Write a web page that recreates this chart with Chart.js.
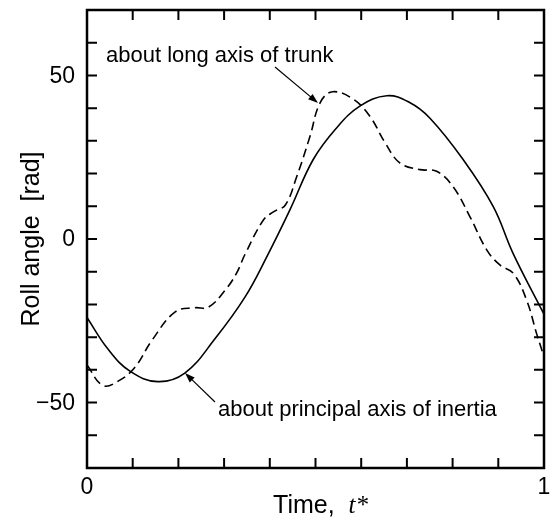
<!DOCTYPE html>
<html lang="en">
<head>
  <meta charset="UTF-8">
  <title>Roll angle</title>
  <script src="https://cdn.jsdelivr.net/npm/chart.js"></script>
  <style>
    body { margin: 0; background: #fff; }
    #wrap { width: 551px; height: 517px; }
  </style>
</head>
<body>
<div id="wrap"><canvas id="rollChart" width="551" height="517"></canvas></div>
<script>
  // about principal axis of inertia (solid)
  var principalT = [0, 0.045, 0.094, 0.155, 0.214, 0.28, 0.346, 0.395, 0.444, 0.495, 0.545, 0.597, 0.656, 0.705, 0.75, 0.823, 0.889, 0.932, 1.0];
  var principalV = [-24, -33.5, -40.4, -43.6, -41, -30.5, -17.7, -5, 8.9, 24.3, 33.8, 40.6, 43.8, 41.8, 37, 24.3, 9.9, -4.3, -23];

  // about long axis of trunk (dashed)
  var trunkT = [0, 0.035, 0.07, 0.105, 0.142, 0.193, 0.236, 0.265, 0.302, 0.327, 0.346, 0.386, 0.408, 0.434, 0.459, 0.488, 0.51, 0.537, 0.583, 0.619, 0.652, 0.685, 0.729, 0.765, 0.801, 0.838, 0.875, 0.904, 0.933, 0.962, 0.984, 1.0];
  var trunkV = [-38.5, -44.8, -43.3, -39.2, -31, -22.3, -21, -20.9, -15.7, -10.5, -4.6, 5.8, 8.3, 10.4, 19.1, 31.4, 41.6, 45, 42.7, 37.5, 29.5, 23.2, 21.2, 20.7, 16, 6.8, -3.4, -8, -10.5, -18.7, -29, -36];

  // axis ticks
  var xMinorTicks = [0.1, 0.2, 0.3, 0.4, 0.5, 0.6, 0.7, 0.8, 0.9];
  var yMinorTicks = [-60, -50, -40, -30, -20, -10, 0, 10, 20, 30, 40, 50, 60];
  var xTickLabels = [0, 1];
  var yTickLabels = [-50, 0, 50];

  function toPoints(ts, vs) {
    return ts.map(function(t, i) { return { x: t, y: vs[i] }; });
  }

  var sans = '"Liberation Sans", Arial, sans-serif';

  function arrow(ctx, x0, y0, x1, y1) {
    var a = Math.atan2(y1 - y0, x1 - x0);
    ctx.beginPath();
    ctx.moveTo(x0, y0);
    ctx.lineTo(x1 - 6 * Math.cos(a), y1 - 6 * Math.sin(a));
    ctx.stroke();
    ctx.beginPath();
    ctx.moveTo(x1, y1);
    ctx.lineTo(x1 - 10 * Math.cos(a) + 3.5 * Math.sin(a), y1 - 10 * Math.sin(a) - 3.5 * Math.cos(a));
    ctx.lineTo(x1 - 10 * Math.cos(a) - 3.5 * Math.sin(a), y1 - 10 * Math.sin(a) + 3.5 * Math.cos(a));
    ctx.closePath();
    ctx.fill();
  }

  // frame, inward ticks, labels, titles, notes
  var decor = {
    id: 'decor',
    afterDraw: function(chart) {
      var ctx = chart.ctx, a = chart.chartArea;
      var xs = chart.scales.x, ys = chart.scales.y;
      ctx.save();
      ctx.strokeStyle = '#000';
      ctx.fillStyle = '#000';

      ctx.lineWidth = 2;
      xMinorTicks.forEach(function(v) {
        var px = xs.getPixelForValue(v);
        ctx.beginPath();
        ctx.moveTo(px, a.bottom); ctx.lineTo(px, a.bottom - 10);
        ctx.moveTo(px, a.top); ctx.lineTo(px, a.top + 10);
        ctx.stroke();
      });
      yMinorTicks.forEach(function(v) {
        var py = ys.getPixelForValue(v);
        ctx.beginPath();
        ctx.moveTo(a.left, py); ctx.lineTo(a.left + 10, py);
        ctx.moveTo(a.right, py); ctx.lineTo(a.right - 10, py);
        ctx.stroke();
      });

      ctx.lineWidth = 2.5;
      ctx.strokeRect(a.left, a.top, a.right - a.left, a.bottom - a.top);

      ctx.font = '23px ' + sans;
      ctx.textBaseline = 'middle';
      ctx.textAlign = 'right';
      yTickLabels.forEach(function(v) {
        var txt = v < 0 ? '\u2212' + Math.abs(v) : String(v);
        ctx.fillText(txt, a.left - 12, ys.getPixelForValue(v) + 1);
      });
      ctx.textAlign = 'center';
      xTickLabels.forEach(function(v) {
        ctx.fillText(String(v), xs.getPixelForValue(v), a.bottom + 20);
      });

      // y title
      ctx.save();
      ctx.translate(32, (a.top + a.bottom) / 2);
      ctx.rotate(-Math.PI / 2);
      ctx.font = '25px ' + sans;
      ctx.textAlign = 'center';
      ctx.fillText('Roll angle  [rad]', 0, 0);
      ctx.restore();

      // x title
      ctx.textBaseline = 'alphabetic';
      ctx.textAlign = 'left';
      ctx.font = '25px ' + sans;
      var part1 = 'Time,  ';
      var w1 = ctx.measureText(part1).width;
      ctx.font = 'italic 25px "Liberation Serif", "Times New Roman", serif';
      var w2 = ctx.measureText('t*').width;
      var x0 = (a.left + a.right) / 2 - (w1 + w2) / 2 + 5;
      ctx.font = '25px ' + sans;
      ctx.fillText(part1, x0, 513);
      ctx.font = 'italic 25px "Liberation Serif", "Times New Roman", serif';
      ctx.fillText('t*', x0 + w1, 513);

      // notes
      ctx.font = '22px ' + sans;
      ctx.fillText('about long axis of trunk', 106, 62);
      ctx.fillText('about principal axis of inertia', 218, 416);
      ctx.lineWidth = 1.2;
      arrow(ctx, 275, 67, 318, 103);
      arrow(ctx, 215, 402, 185, 373);

      ctx.restore();
    }
  };

  var ctxRoll = document.getElementById('rollChart').getContext('2d');
  var rollChart = new Chart(ctxRoll, {
    type: 'line',
    data: {
      datasets: [{
        label: 'about principal axis of inertia',
        data: toPoints(principalT, principalV),
        borderColor: '#000',
        borderWidth: 1.6,
        tension: 0.4,
        pointRadius: 0,
        fill: false
      }, {
        label: 'about long axis of trunk',
        data: toPoints(trunkT, trunkV),
        borderColor: '#000',
        borderWidth: 1.6,
        borderDash: [9, 5],
        tension: 0.4,
        pointRadius: 0,
        fill: false
      }]
    },
    options: {
      responsive: false,
      animation: false,
      devicePixelRatio: 1,
      layout: { padding: { left: 87, right: 7, top: 10, bottom: 49 } },
      plugins: { legend: { display: false }, tooltip: { enabled: false } },
      scales: {
        x: { type: 'linear', min: 0, max: 1, display: false },
        y: { type: 'linear', min: -70, max: 70, display: false }
      }
    },
    plugins: [decor]
  });
</script>
</body>
</html>
